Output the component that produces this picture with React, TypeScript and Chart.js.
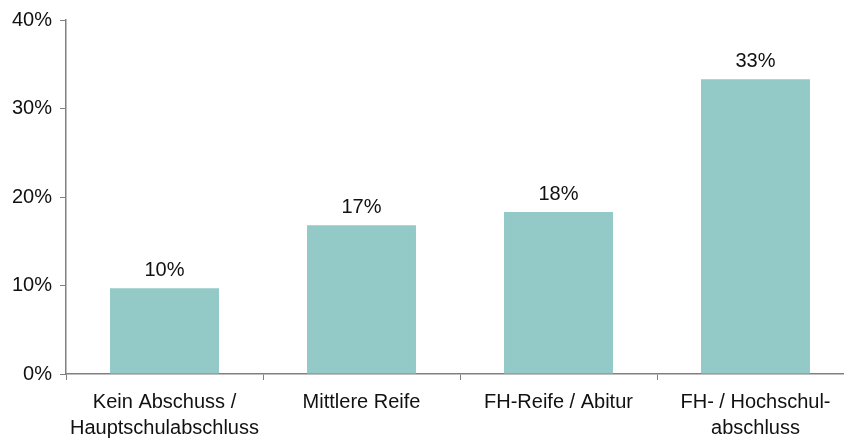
import React, { useEffect, useRef } from "react";
import { Chart, registerables } from "chart.js";

Chart.register(...registerables);

const categories: (string | string[])[] = [
  ["Kein Abschuss /", "Hauptschulabschluss"],
  "Mittlere Reife",
  "FH-Reife / Abitur",
  ["FH- / Hochschul-", "abschluss"],
];
const shares: number[] = [9.7, 16.8, 18.3, 33.3];
const valueLabels: string[] = ["10%", "17%", "18%", "33%"];
const yTicks: number[] = [0, 10, 20, 30, 40];

const FONT = "'Liberation Sans', Arial, sans-serif";

const dataLabelPlugin = {
  id: "dataLabels",
  afterDatasetsDraw(chart: any) {
    const ctx = chart.ctx;
    const meta = chart.getDatasetMeta(0);
    ctx.save();
    ctx.font = `20px ${FONT}`;
    ctx.fillStyle = "#111";
    ctx.textAlign = "center";
    ctx.textBaseline = "alphabetic";
    meta.data.forEach((bar: any, i: number) => {
      ctx.fillText(valueLabels[i], bar.x, bar.y - 12);
    });
    ctx.restore();
  },
};

export default function App() {
  const ref = useRef<HTMLCanvasElement>(null);
  useEffect(() => {
    document.body.style.margin = "0";
    document.body.style.overflow = "hidden";
    const chart = new Chart(ref.current!, {
      type: "bar",
      data: {
        labels: categories,
        datasets: [
          {
            data: shares,
            backgroundColor: "#93C9C7",
            barPercentage: 0.553,
            categoryPercentage: 1,
          },
        ],
      },
      options: {
        responsive: false,
        animation: false,
        layout: { padding: { top: 18, right: 0, left: 0, bottom: 0 } },
        plugins: { legend: { display: false }, tooltip: { enabled: false } },
        scales: {
          x: {
            grid: {
              display: true,
              drawOnChartArea: false,
              drawTicks: true,
              tickLength: 6,
              color: "#808080",
              offset: true,
            },
            border: { display: true, color: "#808080", width: 1.5 },
            ticks: {
              color: "#111",
              font: { family: FONT, size: 20, lineHeight: 1.32 },
              padding: 9,
              maxRotation: 0,
              autoSkip: false,
            },
            afterFit(scale: any) {
              scale.height = 65;
            },
          },
          y: {
            min: 0,
            max: 40,
            afterBuildTicks(scale: any) {
              scale.ticks = yTicks.map((v) => ({ value: v }));
            },
            grid: {
              display: true,
              drawOnChartArea: false,
              drawTicks: true,
              tickLength: 6,
              color: "#808080",
            },
            border: { display: true, color: "#808080", width: 1.5 },
            ticks: {
              color: "#111",
              font: { family: FONT, size: 20 },
              padding: 8,
              callback: (v: any) => `${v}%`,
            },
            afterFit(scale: any) {
              scale.width = 66;
            },
          },
        },
      },
      plugins: [dataLabelPlugin],
    });
    return () => chart.destroy();
  }, []);
  return (
    <div style={{ width: 844, height: 439, overflow: "hidden", position: "relative" }}>
      <canvas ref={ref} width={854} height={439} style={{ display: "block" }} />
    </div>
  );
}
